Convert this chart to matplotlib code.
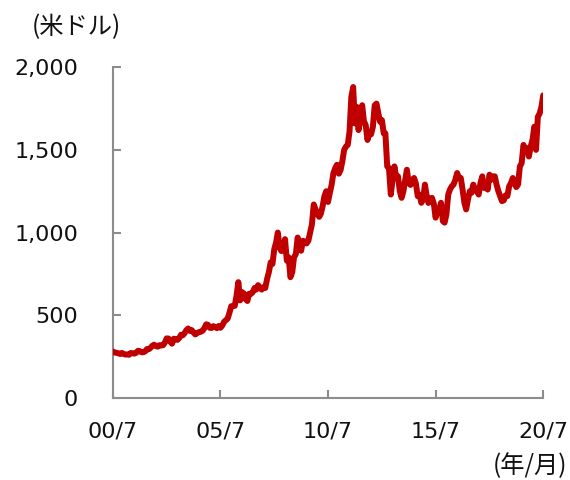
import numpy as np
import pandas as pd
import matplotlib
matplotlib.use('Agg')
import matplotlib.pyplot as plt

plt.rcParams['font.family'] = ['DejaVu Sans', 'Noto Sans CJK JP']

# monthly gold price (USD/oz), 2000/7 .. 2020/7
price = [
    # 2000 Jul-Dec
    281, 274, 273, 270, 266, 272,
    # 2001
    266, 262, 263, 261, 272, 270, 268, 273, 285, 283, 276, 276,
    # 2002
    282, 296, 294, 303, 315, 322, 314, 310, 319, 317, 319, 335,
    # 2003
    360, 359, 340, 328, 358, 356, 351, 362, 382, 379, 392, 410,
    # 2004
    420, 405, 410, 395, 384, 392, 398, 400, 406, 422, 445, 442,
    # 2005
    424, 423, 434, 429, 422, 435, 424, 438, 460, 470, 480, 515,
    # 2006
    555, 555, 557, 620, 700, 590, 640, 632, 598, 586, 630, 629,
    # 2007
    640, 665, 655, 682, 667, 655, 670, 665, 720, 760, 820, 810,
    # 2008
    900, 940, 1000, 909, 888, 895, 960, 830, 850, 730, 760, 850,
    # 2009
    870, 970, 924, 890, 950, 946, 934, 950, 1000, 1050, 1170, 1140,
    # 2010
    1118, 1095, 1113, 1160, 1220, 1250, 1185, 1240, 1290, 1360, 1390, 1410,
    # 2011
    1356, 1380, 1430, 1500, 1520, 1530, 1610, 1820, 1880, 1660, 1760, 1620,
    # 2012
    1680, 1770, 1674, 1650, 1560, 1600, 1594, 1640, 1770, 1780, 1722, 1670,
    # 2013
    1680, 1600, 1600, 1400, 1390, 1230, 1320, 1400, 1330, 1340, 1250, 1210,
    # 2014
    1250, 1320, 1380, 1299, 1288, 1320, 1330, 1296, 1220, 1230, 1180, 1201,
    # 2015
    1290, 1220, 1179, 1205, 1210, 1175, 1090, 1130, 1140, 1180, 1070, 1060,
    # 2016
    1110, 1230, 1260, 1280, 1290, 1320, 1360, 1330, 1330, 1260, 1180, 1140,
    # 2017
    1200, 1250, 1240, 1290, 1260, 1250, 1230, 1300, 1340, 1270, 1290, 1260,
    # 2018
    1350, 1320, 1340, 1340, 1290, 1250, 1220, 1190, 1195, 1225, 1221, 1280,
    # 2019
    1300, 1330, 1300, 1275, 1290, 1400, 1420, 1530, 1500, 1510, 1460, 1520,
    # 2020 Jan-Jul
    1560, 1640, 1500, 1700, 1720, 1760, 1830,
]
dates = pd.date_range('2000-07-01', periods=len(price), freq='MS')

xticks = pd.to_datetime(['2000-07-01', '2005-07-01', '2010-07-01',
                         '2015-07-01', '2020-07-01'])
xlabels = ['00/7', '05/7', '10/7', '15/7', '20/7']
yticks = [0, 500, 1000, 1500, 2000]
ylabels = ['0', '500', '1,000', '1,500', '2,000']

fig = plt.figure(figsize=(5.7, 4.8), dpi=100, facecolor='white')
ax = fig.add_axes([0.198, 0.171, 0.755, 0.689])

ax.plot(dates, price, color='#C00000', lw=4.3, solid_joinstyle='round',
        solid_capstyle='round', zorder=3)

ax.set_xlim(xticks[0], xticks[-1])
ax.set_ylim(0, 2000)
ax.set_xticks(xticks)
ax.set_xticklabels(xlabels)
ax.set_yticks(yticks)
ax.set_yticklabels(ylabels)

for s in ('top', 'right'):
    ax.spines[s].set_visible(False)
for s in ('left', 'bottom'):
    ax.spines[s].set_color('#8c8c8c')
    ax.spines[s].set_linewidth(1.5)
    ax.spines[s].set_zorder(1)
ax.tick_params(axis='both', direction='in', length=6, width=1.5,
               color='#8c8c8c', labelsize=16, labelcolor='#111111')
ax.tick_params(axis='y', pad=25)
ax.tick_params(axis='x', pad=17)

cjk = ['Noto Sans CJK JP', 'DejaVu Sans']
fig.text(0.056, 0.944, '(米ドル)', fontsize=17.5, ha='left', va='center',
         family=cjk, color='#111111')
fig.text(0.995, 0.03, '(年/月)', fontsize=17.5, ha='right', va='center',
         family=cjk, color='#111111')

fig.savefig('out.png', dpi=100, facecolor='white')
